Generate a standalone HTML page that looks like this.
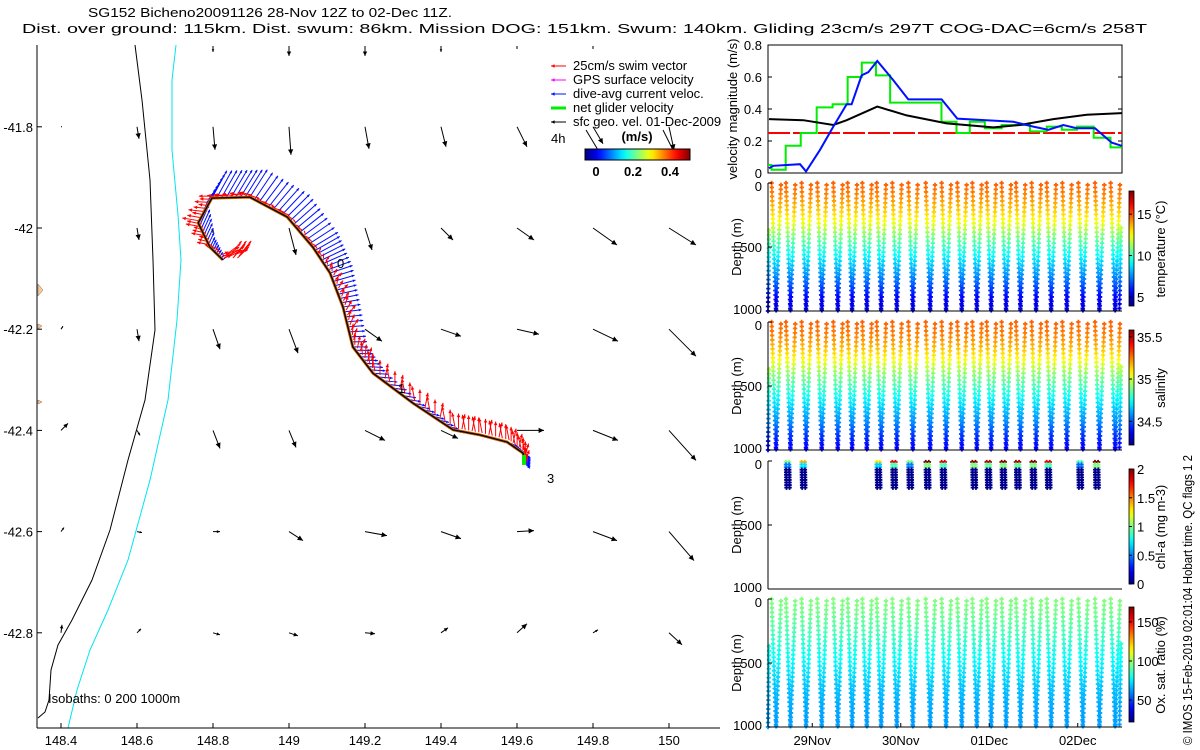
<!DOCTYPE html>
<html><head><meta charset="utf-8">
<style>
html,body{margin:0;padding:0;background:#fff;}
svg{display:block;font-family:"Liberation Sans",sans-serif;}
text{font-size:13px;fill:#000;}
</style></head>
<body>
<svg id="fig" xmlns="http://www.w3.org/2000/svg" width="1200" height="750" viewBox="0 0 1200 750">
<defs>
<linearGradient id="jetH" x1="0" y1="0" x2="1" y2="0"></linearGradient>
<linearGradient id="jetV" x1="0" y1="1" x2="0" y2="0"></linearGradient>
</defs>
<text x="88" y="17" font-size="13" textLength="364" lengthAdjust="spacingAndGlyphs">SG152 Bicheno20091126 28-Nov 12Z to 02-Dec 11Z.</text>
<text x="22" y="33" font-size="14" textLength="1125" lengthAdjust="spacingAndGlyphs">Dist. over ground: 115km. Dist. swum: 86km. Mission DOG: 151km. Swum: 140km. Gliding 23cm/s 297T COG-DAC=6cm/s 258T</text>
<g id="map"></g>
<g id="vel"></g>
<g id="prof"></g>
<text transform="translate(1192,745) rotate(-90)" font-size="14" textLength="290" lengthAdjust="spacingAndGlyphs">© IMOS 15-Feb-2019 02:01:04 Hobart time. QC flags 1  2</text>
</svg>
<script>
// ---------- DATA ----------
const lonTicks=[148.4,148.6,148.8,149,149.2,149.4,149.6,149.8,150];
const latTicks=[-41.8,-42,-42.2,-42.4,-42.6,-42.8];
const trackLon=[148.826,148.792,148.761,148.797,148.897,148.995,149.063,149.108,149.142,149.168,149.221,149.326,149.432,149.503,149.574,149.616,149.621];
const trackLat=[-42.063,-42.038,-41.990,-41.941,-41.939,-41.978,-42.038,-42.089,-42.156,-42.235,-42.287,-42.346,-42.399,-42.409,-42.423,-42.445,-42.468];
const dacU=[0.05,0.1,0.2,0.3,0.35,0.45,0.5,0.45,0.35,0.3,0.3,0.25,0.2,0.2,0.2,0.15,0.1];
const dacV=[0.05,0.2,0.45,0.55,0.55,0.45,0.3,0.15,0.05,0.0,-0.02,-0.05,-0.05,-0.05,-0.08,-0.1,-0.1];
const swimU=[0.15,-0.2,-0.25,-0.2,-0.15,-0.1,-0.05,0.05,0.1,0.05,0.0,0.0,0.0,0.0,0.0,0.0,0.0];
const swimV=[0.05,0.05,0.05,0.0,0.05,0.05,0.05,0.1,0.15,0.2,0.25,0.25,0.25,0.25,0.25,0.2,0.1];
const geoLon=[148.4,148.6,148.8,149,149.2,149.4,149.6,149.8,150];
const geoLatRows=[-41.8,-42,-42.2,-42.4,-42.6,-42.8];
const geoU=[[0.01,0.02,0.02,0.02,0.04,0.05,0.1,0.1,0.05],[0,0.02,0.0,0.07,0.07,0.12,0.17,0.24,0.27],[0.02,0.02,0.07,0.09,0.17,0.2,0.22,0.25,0.27],[0.07,0.03,0.07,0.07,0.2,0.17,0.27,0.25,0.27],[0.03,0.05,0.07,0.14,0.22,0.2,0.17,0.24,0.25],[0.01,0.04,0.07,0.09,0.1,0.07,0.1,0.05,0.13]];
const geoV=[[0,-0.12,-0.23,-0.28,-0.22,-0.2,-0.2,-0.17,-0.23],[0,-0.12,-0.05,-0.27,-0.22,-0.12,-0.12,-0.17,-0.17],[0.03,-0.12,-0.2,-0.24,-0.12,-0.07,-0.05,-0.12,-0.27],[0.07,-0.05,-0.18,-0.17,-0.1,-0.08,0,-0.1,-0.3],[0.04,-0.01,0,-0.09,-0.04,-0.07,0.01,-0.09,-0.29],[0.08,0.04,-0.02,-0.03,-0.01,0.05,0.09,0.03,-0.12]];
const topRowLon=[148.8,149,149.2,149.4,149.6,149.8];
const topRowV=[-0.06,-0.1,-0.1,-0.06,-0.03,-0.03];
const velTicks=[0,0.2,0.4,0.6,0.8];
const dacT=[0.011,0.061,0.362,0.43,0.588,0.738,0.889,0.945,1.058,1.133,1.235,1.416,1.585,1.962,2.139,2.772,2.998,3.168,3.337,3.488,3.695,3.883,3.996];
const dacMag=[0.03,0.045,0.055,0.01,0.145,0.29,0.43,0.43,0.61,0.63,0.70,0.58,0.46,0.46,0.34,0.32,0.29,0.27,0.30,0.28,0.28,0.19,0.17];
const geoT=[0.011,0.399,0.738,0.889,1.235,1.567,2.019,2.546,2.847,3.224,3.601,3.996];
const geoMag=[0.337,0.33,0.30,0.33,0.415,0.36,0.31,0.285,0.30,0.337,0.364,0.374];
const netT=[0.0,0.04,0.2,0.37,0.55,0.73,0.9,1.06,1.22,1.38,1.75,1.96,2.13,2.28,2.45,2.64,2.79,2.96,3.15,3.32,3.49,3.68,3.87,4.0];
const netMag=[0.05,0.02,0.17,0.25,0.41,0.43,0.60,0.69,0.61,0.44,0.44,0.32,0.25,0.32,0.28,0.30,0.30,0.26,0.29,0.27,0.29,0.22,0.16,0.16];
const swimMag=[0.25,0.25];
const dayTicks=[0.5,1.5,2.5,3.5];
const dayLabels=["29Nov","30Nov","01Dec","02Dec"];
const diveTops=[0.041,0.203,0.380,0.557,0.738,0.900,1.066,1.228,1.405,1.586,1.782,1.962,2.139,2.309,2.471,2.640,2.802,2.979,3.149,3.326,3.507,3.695,3.872];
const depthLev=[0,100,200,300,400,500,600,700,800,900,1000];
const tempProf=[14.8,14.2,13.4,12.5,11.0,9.8,8.7,7.8,6.8,5.6,5.0];
const salProf=[35.28,35.24,35.16,35.06,34.92,34.82,34.72,34.64,34.56,34.45,34.38];
const oxyProf=[96,94,90,86,80,76,72,68,66,64,63];
const chlDives=[1,2,7,8,9,10,11,13,14,15,16,17,18,20,21];
const chlSurf=[1.0,1.4,1.3,1.8,1.0,2.0,1.8,2.0,1.9,2.0,1.9,2.0,1.8,0.9,2.0];
const tempTicks=[5,10,15], salTicks=[34.5,35,35.5], chlTicks=[0,0.5,1,1.5,2], oxyTicks=[50,100,150];

// ---------- HELPERS ----------
const NS="http://www.w3.org/2000/svg";
function mk(parent,tag,attrs){const e=document.createElementNS(NS,tag);for(const k in attrs)e.setAttribute(k,attrs[k]);parent.appendChild(e);return e;}
function txt(parent,x,y,s,anchor,size){const e=mk(parent,'text',{x:x,y:y,'text-anchor':anchor||'start','font-size':size||13});e.textContent=s;return e;}
function cl(v){return Math.max(0,Math.min(1,v));}
function jet(v){v=cl(v);const r=cl(1.5-Math.abs(4*v-3)),g=cl(1.5-Math.abs(4*v-2)),b=cl(1.5-Math.abs(4*v-1));return `rgb(${Math.round(r*255)},${Math.round(g*255)},${Math.round(b*255)})`;}
['jetH','jetV'].forEach(id=>{const g=document.getElementById(id);for(let i=0;i<=20;i++){mk(g,'stop',{offset:i/20,'stop-color':jet(i/20)});}});
function arrow(parent,x1,y1,x2,y2,color,w,head){
  mk(parent,'line',{x1:x1,y1:y1,x2:x2,y2:y2,stroke:color,'stroke-width':w});
  const a=Math.atan2(y2-y1,x2-x1),L=Math.hypot(x2-x1,y2-y1),h=Math.min(head,L*0.5);
  if(h<1)return;
  const p=[[x2,y2],[x2-h*Math.cos(a-0.45),y2-h*Math.sin(a-0.45)],[x2-h*Math.cos(a+0.45),y2-h*Math.sin(a+0.45)]];
  mk(parent,'polygon',{points:p.map(q=>q.join(',')).join(' '),fill:color});
}
function interp(xs,ys,x){if(x<=xs[0])return ys[0];for(let i=1;i<xs.length;i++){if(x<=xs[i]){const f=(x-xs[i-1])/(xs[i]-xs[i-1]);return ys[i-1]+f*(ys[i]-ys[i-1]);}}return ys[ys.length-1];}

// ---------- MAP ----------
const map=document.getElementById('map');
const lonX=lon=>289+(lon-149)*380;
const latY=lat=>228+(-42-lat)*506;
[[38,284,43,290,38,296],[38,324,42,326,38,329],[38,400,42,402,38,404]].forEach(p=>{
  const e=mk(map,'polygon',{points:`${p[0]},${p[1]} ${p[2]},${p[3]} ${p[4]},${p[5]}`,fill:'#f5c9a0',stroke:'#8a6a50','stroke-width':0.5});
  
});
let iso0=mk(map,'polyline',{points:'135,45 142,100 150,180 153,260 155,330 145,400 128,460 110,530 92,580 72,620 58,645 51,670 49,700 45,712 38,718',fill:'none',stroke:'#000','stroke-width':1});

let iso200=mk(map,'polyline',{points:'176,45 172,80 172,150 178,215 181,260 177,320 168,400 150,480 128,560 108,610 90,650 77,690 68,728',fill:'none',stroke:'#00e5ee','stroke-width':1});

const GS=100;
geoLatRows.forEach((lat,r)=>{geoLon.forEach((lon,c)=>{
  const g=mk(map,'g',{});
  const x=lonX(lon),y=latY(lat);arrow(g,x,y,x+geoU[r][c]*GS,y-geoV[r][c]*GS,'#000',1,6);
});});
topRowLon.forEach((lon,i)=>{const g=mk(map,'g',{});
  const x=lonX(lon);arrow(g,x,46,x,46-topRowV[i]*GS,'#000',1,6);});
const vecG=mk(map,'g',{});
for(let i=0;i<trackLon.length-1;i++){
  for(let k=0;k<8;k++){const f=k/8;
    const x=lonX(trackLon[i]+(trackLon[i+1]-trackLon[i])*f),y=latY(trackLat[i]+(trackLat[i+1]-trackLat[i])*f);
    const u=dacU[i]+(dacU[i+1]-dacU[i])*f,v=dacV[i]+(dacV[i+1]-dacV[i])*f;
    arrow(vecG,x,y,x+u*50,y-v*50,'#0010ff',1,3);
    const su=swimU[i]+(swimU[i+1]-swimU[i])*f,sv=swimV[i]+(swimV[i+1]-swimV[i])*f;
    arrow(vecG,x+2,y-2,x+2+su*60+((k%3)-1)*3,y-2-sv*60,'#ff0000',1,4);
  }
}
for(let k=0;k<12;k++){arrow(vecG,224+k*1.5,258-(k%3)*2,238+k*1.2,250-(k%4)*3,'#ff0000',1,3);}
const trk=mk(map,'polyline',{points:trackLon.map((l,i)=>lonX(l)+','+latY(trackLat[i])).join(' '),fill:'none',stroke:'#d06000','stroke-width':3});

const trk2=mk(map,'polyline',{points:trackLon.map((l,i)=>lonX(l)+','+latY(trackLat[i])).join(' '),fill:'none',stroke:'#000','stroke-width':1.3});

mk(map,'rect',{x:522,y:455,width:4,height:10,fill:'#00ee00'});
txt(map,337,268,'0');txt(map,398,393,'1');txt(map,547,483,'3');
mk(map,'line',{x1:37,y1:45,x2:37,y2:728,stroke:'#000'});
mk(map,'line',{x1:37,y1:728,x2:720,y2:728,stroke:'#000'});
lonTicks.forEach(l=>{const x=lonX(l);mk(map,'line',{x1:x,y1:728,x2:x,y2:723,stroke:'#000'});const t=txt(map,x,745,String(l),'middle');});
latTicks.forEach(l=>{const y=latY(l);mk(map,'line',{x1:37,y1:y,x2:42,y2:y,stroke:'#000'});const t=txt(map,33,y+5,String(l),'end');});
txt(map,48,703,'Isobaths: 0   200  1000m');
const leg=mk(map,'g',{});
[['25cm/s swim vector','#ff0000',1],['GPS surface velocity','#ff00ff',1],['dive-avg current veloc.','#0010ff',1],['net glider velocity','#00ee00',3],['sfc geo. vel. 01-Dec-2009','#000',1]].forEach((e,i)=>{
  const y=66+i*14;arrow(leg,566,y,551,y,e[1],e[2],4);txt(leg,573,y+4,e[0],'start',12);
});
txt(leg,551,143,'4h','start',12);
const ms=txt(leg,637,141,'(m/s)','middle',13);ms.setAttribute('font-weight','bold');
mk(leg,'line',{x1:586,y1:130,x2:598,y2:150,stroke:'#000'});mk(leg,'line',{x1:663,y1:130,x2:673,y2:150,stroke:'#000'});
const cb=mk(leg,'rect',{x:585,y:149,width:105,height:11,fill:'url(#jetH)',stroke:'#000','stroke-width':1});

[[0,596],[0.2,633],[0.4,670]].forEach(p=>{const t=txt(leg,p[1],176,String(p[0]),'middle',13);t.setAttribute('font-weight','bold');});

// ---------- VELOCITY PANEL ----------
const vel=document.getElementById('vel');
const VL=768,VR=1122,VT=45,VB=173;
const tx=t=>VL+t*88.5;
const vy=v=>VB-v/0.8*(VB-VT);
mk(vel,'rect',{x:VL,y:VT,width:VR-VL,height:VB-VT,fill:'none',stroke:'#000'});
velTicks.forEach(v=>{const y=vy(v);mk(vel,'line',{x1:VL,y1:y,x2:VL+4,y2:y,stroke:'#000'});mk(vel,'line',{x1:VR,y1:y,x2:VR-4,y2:y,stroke:'#000'});const t=txt(vel,762,y+5,String(v),'end');});
txt(vel,0,0,'velocity magnitude (m/s)','middle',13).setAttribute('transform',`translate(737,${(VT+VB)/2}) rotate(-90)`);
const sw=mk(vel,'line',{x1:tx(0),y1:vy(swimMag[0]),x2:tx(4),y2:vy(swimMag[1]),stroke:'#ff0000','stroke-width':2,'stroke-dasharray':'22,3'});

let np='';netT.forEach((t,i)=>{if(i>0)np+=` ${tx(t)},${vy(netMag[i-1])}`;np+=` ${tx(t)},${vy(netMag[i])}`;});
const nl=mk(vel,'polyline',{points:np.trim(),fill:'none',stroke:'#00ee00','stroke-width':2});

const gl=mk(vel,'polyline',{points:geoT.map((t,i)=>tx(t)+','+vy(geoMag[i])).join(' '),fill:'none',stroke:'#000','stroke-width':2});

const dl=mk(vel,'polyline',{points:dacT.map((t,i)=>tx(t)+','+vy(dacMag[i])).join(' '),fill:'none',stroke:'#0010ff','stroke-width':2});


// ---------- PROFILE PANELS ----------
const prof=document.getElementById('prof');
const panels=[
 {top:183,prof:tempProf,vmin:3.9,vmax:17.8,ticks:tempTicks,label:'temperature (°C)',name:'temperature'},
 {top:322,prof:salProf,vmin:34.22,vmax:35.58,ticks:salTicks,label:'salinity',name:'salinity'},
 {top:461,prof:null,vmin:0,vmax:2,ticks:chlTicks,label:'chl-a (mg m-3)',name:'chlorophyll'},
 {top:599,prof:oxyProf,vmin:22,vmax:169,ticks:oxyTicks,label:'Ox. sat. ratio (%)',name:'oxygen'}];
function diveSamples(cb){
  diveTops.forEach((t0,i)=>{
    const tb=t0+0.05,t1=t0+0.105;
    for(let d=0;d<=1000;d+=35){cb(i,t0+(tb-t0)*d/1000,d);cb(i,tb+(t1-tb)*(1000-d)/1000,d+15);}
  });
  for(let d=1000;d>=350;d-=35){cb(-1,0.0+(1000-d)/1000*0.02,d);}
  for(let d=350;d<=1000;d+=35){cb(-1,3.99-(d-350)/1000*0.03,d);}
}
panels.forEach(p=>{
  const g=mk(prof,'g',{});
  const T=p.top,B=T+128;const dyf=d=>T+d/1000*128;
  const pts=mk(g,'g',{});
  const plot=(t,d,val)=>{if(d>1000)return;const x=tx(t);if(x<VL-2||x>VR)return;const y=dyf(d);const c=jet((val-p.vmin)/(p.vmax-p.vmin));
    mk(pts,'path',{d:`M${x-2.2},${y}H${x+2.2}M${x},${y-2.2}V${y+2.2}`,stroke:c,'stroke-width':1.8,fill:'none'});};
  if(p.prof){diveSamples((i,t,d)=>plot(t,d,interp(depthLev,p.prof,d)));}
  else{
    chlDives.forEach((di,k)=>{const t0=diveTops[di];
      [0,0.035].forEach(off=>{for(let d=0;d<=200;d+=20){let v=d<15?chlSurf[k]:(d<45?chlSurf[k]*0.5:0.02);plot(t0+off+d/1000*0.03,d+8,v);}});
    });
  }
  mk(g,'line',{x1:VL,y1:T,x2:VL,y2:B,stroke:'#000'});
  mk(g,'line',{x1:VL,y1:B,x2:VR,y2:B,stroke:'#000'});
  [0,500,1000].forEach(d=>{const y=dyf(d);mk(g,'line',{x1:VL,y1:y,x2:VL+4,y2:y,stroke:'#000'});const t=txt(g,762,y+(d===0?8:d===1000?3:5),String(d),'end');});
  txt(g,0,0,'Depth (m)','middle',13).setAttribute('transform',`translate(741,${T+64}) rotate(-90)`);
  const c=mk(g,'rect',{x:1129,y:T+8,width:5,height:115,fill:'url(#jetV)',stroke:'#000','stroke-width':0.8});
  
  p.ticks.forEach(v=>{const y=T+8+115-(v-p.vmin)/(p.vmax-p.vmin)*115;mk(g,'line',{x1:1129,y1:y,x2:1132,y2:y,stroke:'#000'});const t=txt(g,1137,y+5,String(v),'start');});
  txt(g,0,0,p.label,'middle',13).setAttribute('transform',`translate(1165,${T+66}) rotate(-90)`);
});
dayTicks.forEach((t,i)=>{const x=tx(t);mk(prof,'line',{x1:x,y1:727,x2:x,y2:723,stroke:'#000'});const l=txt(prof,x,745,dayLabels[i],'middle');});
</script>
</body></html>
